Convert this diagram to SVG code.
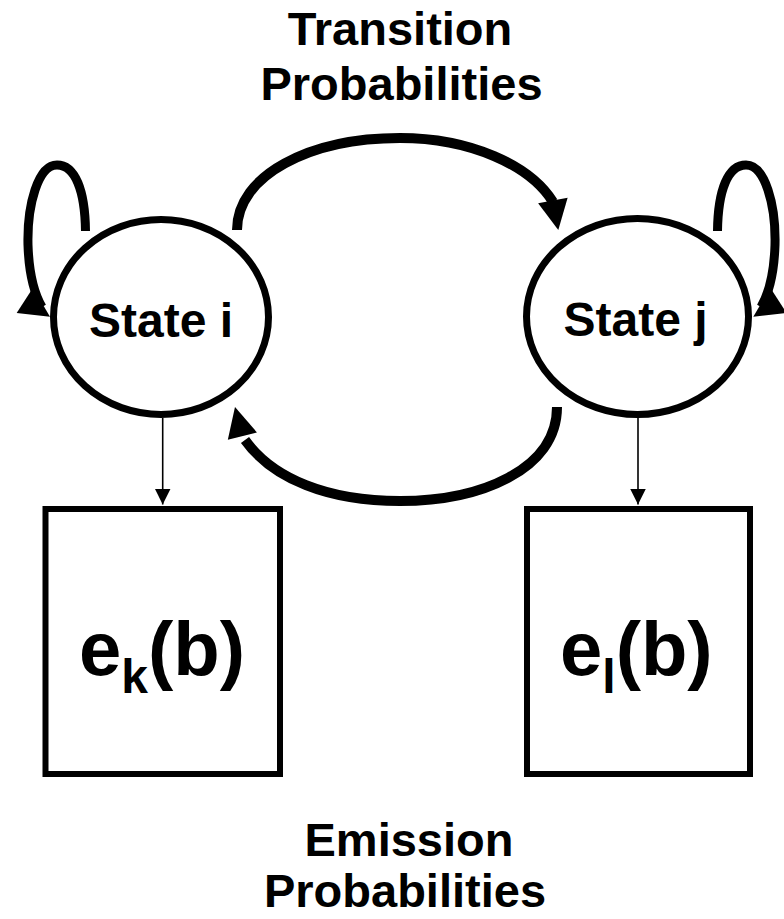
<svg xmlns="http://www.w3.org/2000/svg" xmlns:xlink="http://www.w3.org/1999/xlink" width="784" height="919" viewBox="0 0 784 919">
<style>
  text { font-family: "Liberation Sans", Arial, Helvetica, sans-serif; font-weight: bold; fill: #000; }
  .title { font-size: 47px; text-anchor: middle; }
  .state { font-size: 48px; text-anchor: middle; }
  .emit { font-size: 76px; }
  .sub { font-size: 48px; }
  .node { fill: #fff; stroke: #000; stroke-width: 7; }
  .box { fill: #fff; stroke: #000; stroke-width: 6; }
  .trans { fill: none; stroke: #000; stroke-width: 10; }
  .loop { fill: none; stroke: #000; stroke-width: 9; }
  .thin { fill: none; stroke: #000; stroke-width: 1.6; }
</style>
<defs>
  <path id="bighead" d="M0,0 L-30,-15 L-30,15 Z" fill="#000"/>
  <marker id="thinhead" markerUnits="userSpaceOnUse" markerWidth="16" markerHeight="16" viewBox="0 0 16 16" refX="16" refY="8" orient="auto">
    <path d="M0,0 L16,8 L0,16 Z" fill="#000"/>
  </marker>
</defs>

<g id="title-transition">
  <text class="title" x="400" y="45">Transition</text>
  <text class="title" x="401.5" y="100">Probabilities</text>
</g>
<g id="title-emission">
  <text class="title" x="409" y="856">Emission</text>
  <text class="title" x="405" y="907">Probabilities</text>
</g>

<g id="state-i">
  <ellipse class="node" cx="161" cy="317" rx="107.5" ry="97.5"/>
  <text class="state" x="161" y="337">State i</text>
</g>
<g id="state-j">
  <ellipse class="node" cx="637.5" cy="316.5" rx="111" ry="98"/>
  <text class="state" x="635.5" y="336">State j</text>
</g>

<g id="emission-k">
  <rect class="box" x="45.5" y="509" width="234.5" height="265"/>
  <text class="emit" x="79" y="675">e<tspan class="sub" dy="18">k</tspan><tspan dy="-18">(b)</tspan></text>
</g>
<g id="emission-l">
  <rect class="box" x="527" y="509" width="223" height="265"/>
  <text class="emit" x="560" y="675">e<tspan class="sub" dy="18">l</tspan><tspan dy="-18">(b)</tspan></text>
</g>

<g id="connectors">
  <!-- transition i -> j -->
  <path class="trans" d="M237,230 C237,175 310,138 400,138 C470,138 530,165 553,202"/>
  <use xlink:href="#bighead" href="#bighead" transform="translate(558.3,230) rotate(79.6)"/>
  <!-- transition j -> i -->
  <path class="trans" d="M557,407 C557,470 480,501 400,501 C328,501 273,479 245,440"/>
  <use xlink:href="#bighead" href="#bighead" transform="translate(235,407) rotate(-104.2)"/>
  <!-- self loop i -->
  <path class="loop" d="M85.5,231 C85,190 75,165 57,165 C38,165 27,205 28,245 C29,275 35,295 42,307"/>
  <use xlink:href="#bighead" href="#bighead" transform="translate(50,316.7) rotate(33)"/>
  <!-- self loop j -->
  <path class="loop" d="M717.5,231 C718,190 728,165 746,165 C765,165 776,205 775,245 C774,275 768,295 761,307"/>
  <use xlink:href="#bighead" href="#bighead" transform="translate(753.3,316.7) rotate(147)"/>
  <!-- emissions -->
  <line class="thin" x1="162.7" y1="418" x2="162.7" y2="504.5" marker-end="url(#thinhead)"/>
  <line class="thin" x1="638" y1="418" x2="638" y2="504.5" marker-end="url(#thinhead)"/>
</g>
</svg>
